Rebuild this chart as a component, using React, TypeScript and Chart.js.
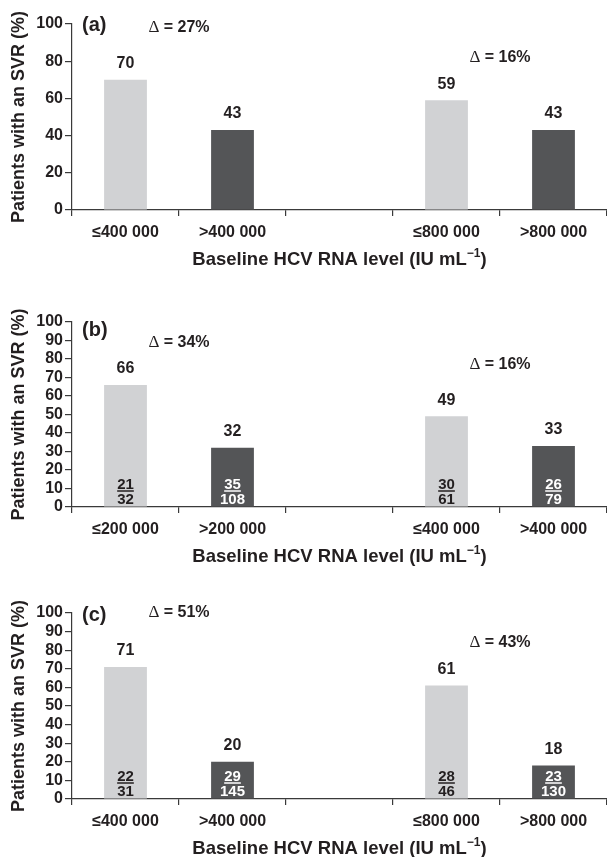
import React, { useEffect, useRef } from 'react';
import { Chart, registerables } from 'chart.js';

Chart.register(...registerables);

// ---- data ----
const categoriesA = ['≤400 000', '>400 000', '', '≤800 000', '>800 000'];
const svrA = [70, 43, null, 59, 43];
const deltasA = ['27%', '16%'];

const categoriesB = ['≤200 000', '>200 000', '', '≤400 000', '>400 000'];
const svrB = [66, 32, null, 49, 33];
const respondersB = [21, 35, null, 30, 26];
const totalsB = [32, 108, null, 61, 79];
const deltasB = ['34%', '16%'];

const categoriesC = ['≤400 000', '>400 000', '', '≤800 000', '>800 000'];
const svrC = [71, 20, null, 61, 18];
const respondersC = [22, 29, null, 28, 23];
const totalsC = [31, 145, null, 46, 130];
const deltasC = ['51%', '43%'];

const yTitle = 'Patients with an SVR (%)';
const xTitleMain = 'Baseline HCV RNA level (IU mL';
const xTitleSup = '\u22121';
const xTitleEnd = ')';

// ---- styles ----
const LIGHT = '#d1d2d4';
const DARK = '#545557';
const TEXT = '#231f20';
const AXIS = '#3a3a3a';
const SANS = '"Liberation Sans", Arial, Helvetica, sans-serif';
const SERIF = '"Liberation Serif", "Times New Roman", serif';
const barColors = [LIGHT, DARK, LIGHT, LIGHT, DARK];

type Panel = {
  id: string;
  top: number;
  height: number;
  plotTop: number;
  plotBottom: number;
  step: number;
  labelDy: number;
  deltaLevels: number[];
  categories: string[];
  values: (number | null)[];
  deltas: string[];
  responders?: (number | null)[];
  totals?: (number | null)[];
};

const panels: Panel[] = [
  { id: '(a)', top: 0, height: 290, plotTop: 24, plotBottom: 210, step: 20, labelDy: 1, deltaLevels: [98, 82],
    categories: categoriesA, values: svrA, deltas: deltasA },
  { id: '(b)', top: 290, height: 290, plotTop: 322, plotBottom: 507, step: 10, labelDy: 8, deltaLevels: [89, 77],
    categories: categoriesB, values: svrB, deltas: deltasB, responders: respondersB, totals: totalsB },
  { id: '(c)', top: 580, height: 277, plotTop: 613, plotBottom: 799, step: 10, labelDy: 2, deltaLevels: [100, 84],
    categories: categoriesC, values: svrC, deltas: deltasC, responders: respondersC, totals: totalsC },
];

const WIDTH = 607;
const AXIS_X = 72;

function PanelChart({ p }: { p: Panel }) {
  const ref = useRef<HTMLCanvasElement>(null);
  useEffect(() => {
    const canvas = ref.current!;
    const padTop = p.plotTop - p.top;
    const xHeight = p.top + p.height - p.plotBottom;

    const textPlugin = {
      id: 'panelText' + p.id,
      afterDraw(chart: any) {
        const { ctx, chartArea, scales } = chart;
        const xs = scales.x;
        const ys = scales.y;
        const meta = chart.getDatasetMeta(0);
        ctx.save();
        ctx.fillStyle = TEXT;
        ctx.textAlign = 'center';
        ctx.textBaseline = 'middle';

        // value labels + fractions
        meta.data.forEach((bar: any, i: number) => {
          const v = p.values[i];
          if (v == null) return;
          ctx.font = `bold 16px ${SANS}`;
          ctx.fillStyle = TEXT;
          ctx.textBaseline = 'middle';
          ctx.fillText(String(v), bar.x, bar.y - 16);
          if (p.responders && p.totals) {
            const num = p.responders[i];
            const den = p.totals[i];
            if (num == null || den == null) return;
            const base = ys.getPixelForValue(0);
            const col = barColors[i] === DARK ? '#ffffff' : TEXT;
            ctx.fillStyle = col;
            ctx.strokeStyle = col;
            ctx.font = `bold 15px ${SANS}`;
            ctx.textBaseline = 'alphabetic';
            ctx.fillText(String(num), bar.x, base - 18.5);
            ctx.fillText(String(den), bar.x, base - 3);
            const w = ctx.measureText(String(num)).width;
            ctx.lineWidth = 1.5;
            ctx.beginPath();
            ctx.moveTo(bar.x - w / 2, base - 16);
            ctx.lineTo(bar.x + w / 2, base - 16);
            ctx.stroke();
            ctx.textBaseline = 'middle';
          }
        });

        // delta labels
        ctx.fillStyle = TEXT;
        [[0, 1], [3, 4]].forEach((pair, k) => {
          const cx = (xs.getPixelForValue(pair[0]) + xs.getPixelForValue(pair[1])) / 2;
          const cy = ys.getPixelForValue(p.deltaLevels[k]);
          ctx.font = `17px ${SERIF}`;
          const wd = ctx.measureText('\u0394').width;
          ctx.font = `bold 16px ${SANS}`;
          const rest = ' = ' + p.deltas[k];
          const wr = ctx.measureText(rest).width;
          const x0 = cx - (wd + wr) / 2;
          ctx.textAlign = 'left';
          ctx.font = `17px ${SERIF}`;
          ctx.fillText('\u0394', x0, cy);
          ctx.font = `bold 16px ${SANS}`;
          ctx.fillText(rest, x0 + wd, cy);
          ctx.textAlign = 'center';
        });

        // panel label
        ctx.textAlign = 'left';
        ctx.font = `bold 20px ${SANS}`;
        ctx.fillText(p.id, 82, chartArea.top + p.labelDy);

        // y title
        ctx.save();
        ctx.translate(19, (chartArea.top + chartArea.bottom) / 2);
        ctx.rotate(-Math.PI / 2);
        ctx.textAlign = 'center';
        ctx.font = `bold 18px ${SANS}`;
        ctx.fillText(yTitle, 0, 0);
        ctx.restore();

        // x title with superscript
        const ty = chartArea.bottom + 50;
        const tcx = (chartArea.left + chartArea.right) / 2;
        ctx.font = `bold 18.5px ${SANS}`;
        const w1 = ctx.measureText(xTitleMain).width;
        const w3 = ctx.measureText(xTitleEnd).width;
        ctx.font = `bold 12px ${SANS}`;
        const w2 = ctx.measureText(xTitleSup).width;
        let x = tcx - (w1 + w2 + w3) / 2;
        ctx.textAlign = 'left';
        ctx.font = `bold 18.5px ${SANS}`;
        ctx.fillText(xTitleMain, x, ty);
        x += w1;
        ctx.font = `bold 12px ${SANS}`;
        ctx.fillText(xTitleSup, x, ty - 6);
        x += w2;
        ctx.font = `bold 18.5px ${SANS}`;
        ctx.fillText(xTitleEnd, x, ty);
        ctx.restore();
      },
    };

    const chart = new Chart(canvas, {
      type: 'bar',
      data: {
        labels: p.categories,
        datasets: [
          {
            data: p.values as any,
            backgroundColor: barColors,
            borderWidth: 0,
            categoryPercentage: 1,
            barPercentage: 0.4,
          },
        ],
      },
      options: {
        responsive: false,
        animation: false,
        devicePixelRatio: 1,
        layout: { padding: { top: padTop, left: 0, right: 0, bottom: 0 } },
        plugins: { legend: { display: false }, tooltip: { enabled: false }, title: { display: false } },
        scales: {
          x: {
            offset: true,
            grid: { display: true, offset: true, drawOnChartArea: false, drawTicks: true, tickLength: 6, color: AXIS, lineWidth: 1.2 },
            border: { display: true, color: AXIS, width: 1.2 },
            ticks: { color: TEXT, font: { family: SANS, size: 16, weight: 'bold' }, padding: 7, maxRotation: 0, autoSkip: false },
            afterFit: (s: any) => { s.height = xHeight; },
          },
          y: {
            min: 0,
            max: 100,
            grid: { display: true, drawOnChartArea: false, drawTicks: true, tickLength: 7, color: AXIS, lineWidth: 1.2 },
            border: { display: true, color: AXIS, width: 1.2 },
            ticks: { stepSize: p.step, autoSkip: false, color: TEXT, font: { family: SANS, size: 16, weight: 'bold' }, padding: 2 },
            afterFit: (s: any) => { s.width = AXIS_X; },
          },
        },
      },
      plugins: [textPlugin],
    } as any);
    return () => chart.destroy();
  }, [p]);

  return (
    <canvas
      ref={ref}
      width={WIDTH}
      height={p.height}
      style={{ position: 'absolute', left: 0, top: p.top, width: WIDTH, height: p.height, display: 'block' }}
    />
  );
}

export default function App() {
  return (
    <div style={{ position: 'absolute', left: 0, top: 0, width: WIDTH, height: 857, background: '#fff' }}>
      {panels.map((p) => (
        <PanelChart key={p.id} p={p} />
      ))}
    </div>
  );
}
